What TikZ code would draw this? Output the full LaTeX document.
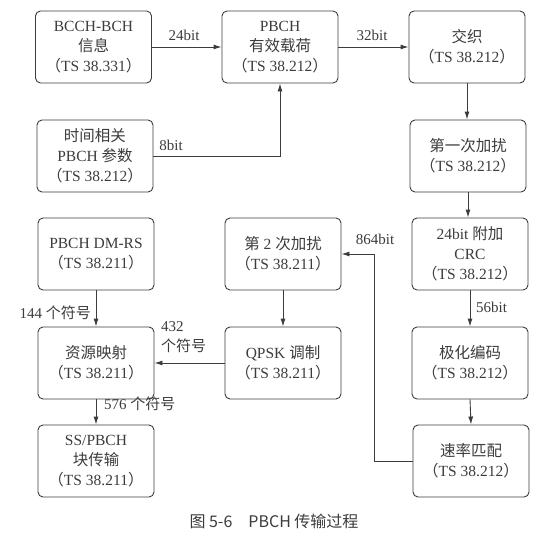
\documentclass[tikz,border=0pt]{standalone}
\usepackage{fontspec}
\setmainfont{Liberation Serif}
\newfontfamily\cjk{Noto Sans CJK SC}
\usetikzlibrary{arrows.meta}
\newcommand{\zh}[1]{{\cjk #1}}
\newcommand{\tsref}[1]{\zh{（}TS 38.#1\zh{）}}
\definecolor{ink}{HTML}{3C3C3C}
\tikzset{
  blk/.style={draw=ink, line width=0.9pt, rounded corners=5pt, minimum width=116pt, minimum height=72pt, align=center, text=ink, font=\fontsize{15.5}{20}\selectfont, inner sep=0pt},
  conn/.style={draw=ink, line width=0.9pt, -{Latex[length=8pt,width=5pt]}},
  lbl/.style={text=ink, font=\fontsize{15}{20}\selectfont, inner sep=0pt}
}
\begin{document}
\begin{tikzpicture}[x=1pt,y=-1pt]
\useasboundingbox (0,0) rectangle (552,546);
\node[blk] (A) at (93.5,47) {BCCH-BCH\\\zh{信息}\\\tsref{331}};
\node[blk] (B) at (280,47) {PBCH\\\zh{有效载荷}\\\tsref{212}};
\node[blk] (C) at (467,47) {\zh{交织}\\\tsref{212}};
\node[blk] (D) at (95,156) {\zh{时间相关}\\PBCH \zh{参数}\\\tsref{212}};
\node[blk] (E) at (468,156) {\zh{第一次加扰}\\\tsref{212}};
\node[blk] (H) at (96,254) {PBCH DM-RS\\\tsref{211}};
\node[blk] (G) at (283,254) {\zh{第} 2 \zh{次加扰}\\\tsref{211}};
\node[blk] (F) at (470,254) {24bit \zh{附加}\\CRC\\\tsref{212}};
\node[blk] (I) at (96,363) {\zh{资源映射}\\\tsref{211}};
\node[blk] (J) at (283,363) {QPSK \zh{调制}\\\tsref{211}};
\node[blk] (K) at (470,363) {\zh{极化编码}\\\tsref{212}};
\node[blk] (L) at (96,461) {SS/PBCH\\\zh{块传输}\\\tsref{211}};
\node[blk] (M) at (471,461) {\zh{速率匹配}\\\tsref{212}};
\coordinate (mg) at (374,461);
\draw[conn] (A.east) -- (B.west);
\draw[conn] (B.east) -- (C.west);
\draw[conn] (D.east) -| (B.south);
\draw[conn] (C.south) -- (C.south |- E.north);
\draw[conn] (E.south) -- (E.south |- F.north);
\draw[conn] (F.south) -- (K.north);
\draw[conn] (K.south) -- (M.north);
\draw[conn] (M.west) -- (mg) |- (G.east);
\draw[conn] (G.south) -- (J.north);
\draw[conn] (J.west) -- (I.east);
\draw[conn] (H.south) -- (I.north);
\draw[conn] (I.south) -- (L.north);
\node[lbl] (l1) at (184,35) {24bit};
\node[lbl] (l2) at (372,35) {32bit};
\node[lbl] (l3) at (171,145) {8bit};
\node[lbl, anchor=west] (l4) at (476,307) {56bit};
\node[lbl] (l5) at (375,239) {864bit};
\node[lbl, anchor=west, align=left] (l6) at (161,337) {432\\\zh{个符号}};
\node[lbl, anchor=east] (l7) at (91,313) {144 \zh{个符号}};
\node[lbl, anchor=west] (l8) at (104,404) {576 \zh{个符号}};
\node[text=ink, font=\cjk\fontsize{16}{20}\selectfont, inner sep=0pt] (cap) at (274,521) {图 5-6\hspace{16pt}PBCH 传输过程};
\end{tikzpicture}
\end{document}
